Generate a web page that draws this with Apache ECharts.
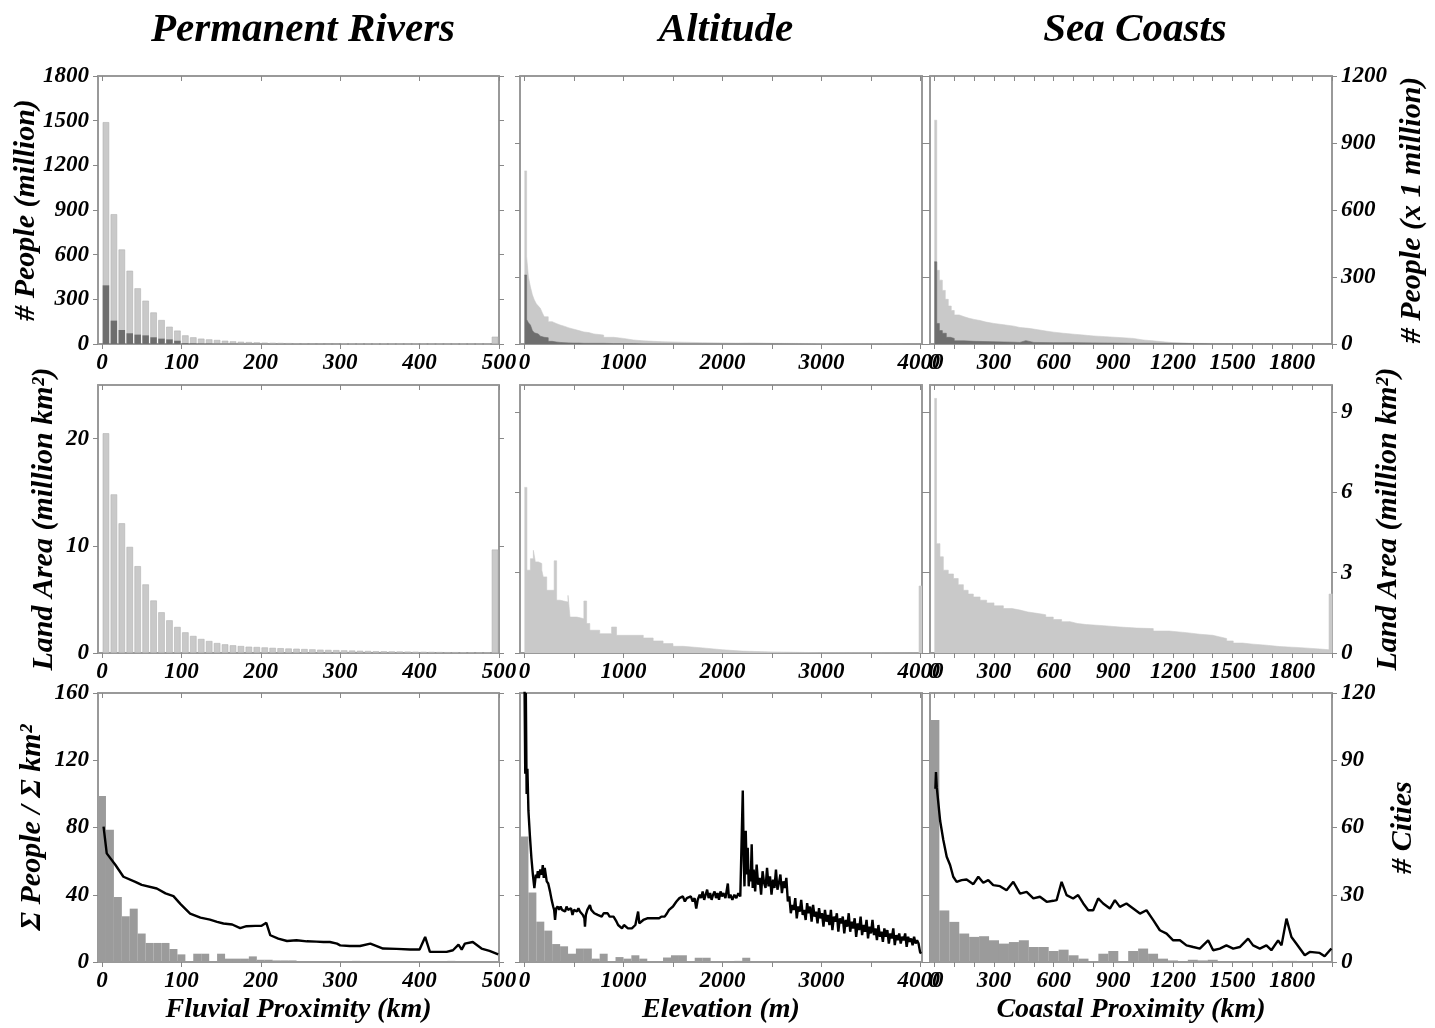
<!DOCTYPE html>
<html>
<head>
<meta charset="utf-8">
<title>Permanent Rivers / Altitude / Sea Coasts</title>
<script src="https://cdn.jsdelivr.net/npm/echarts@6/dist/echarts.min.js"></script>
<style>
html, body { margin: 0; padding: 0; background: #fff; }
#chart { width: 1435px; height: 1028px; }
</style>
</head>
<body>
<div id="chart"></div>
<script>
"use strict";

// ---- column titles / axis names
var colTitles = ['Permanent Rivers', 'Altitude', 'Sea Coasts'];
var xNames = ['Fluvial Proximity (km)', 'Elevation (m)', 'Coastal Proximity (km)'];
var leftNames = ['# People (million)', 'Land Area (million km\u00b2)', '\u03a3 People / \u03a3 km\u00b2'];
var rightNames = ['# People (x 1 million)', 'Land Area (million km\u00b2)', '# Cities'];

// ---- tick values
var riverTicks = [0, 100, 200, 300, 400, 500];
var altTicks = [0, 500, 1000, 1500, 2000, 2500, 3000, 3500, 4000];
var altLabels = [0, 1000, 2000, 3000, 4000];
var coastTicks = [0, 100, 200, 300, 400, 500, 600, 700, 800, 900, 1000, 1100, 1200, 1300, 1400, 1500, 1600, 1700, 1800, 1900, 2000];
var coastLabels = [0, 300, 600, 900, 1200, 1500, 1800];
var peopleLeftTicks = [0, 300, 600, 900, 1200, 1500, 1800];
var peopleRightTicks = [0, 300, 600, 900, 1200];
var landLeftTicks = [0, 10, 20];
var landRightTicks = [0, 3, 6, 9];
var ratioTicks = [0, 40, 80, 120, 160];
var cityTicks = [0, 30, 60, 90, 120];

// ---- Permanent Rivers (10 km bins)
var riverMid = [5, 15, 25, 35, 45, 55, 65, 75, 85, 95, 105, 115, 125, 135, 145, 155, 165, 175, 185, 195,
  205, 215, 225, 235, 245, 255, 265, 275, 285, 295, 305, 315, 325, 335, 345, 355, 365, 375, 385, 395,
  405, 415, 425, 435, 445, 455, 465, 475, 485, 495];
var riverPeople = [1490, 872, 635, 492, 374, 291, 212, 161, 116, 90, 58, 45, 36, 31, 27, 22, 18, 15, 13, 11,
  9, 8, 7, 6, 5, 5, 4, 4, 3, 3, 3, 2, 2, 2, 2, 2, 1, 1, 1, 1, 1, 1, 1, 1, 1, 1, 1, 1, 1, 49];
var riverCityPeople = [394, 157, 94, 72, 63, 58, 45, 36, 31, 22, 6, 5, 4, 4, 3, 3, 3, 2, 2, 2,
  2, 1, 1, 1, 1, 1, 1, 1, 1, 1, 0, 0, 0, 0, 0, 0, 0, 0, 0, 0, 0, 0, 0, 0, 0, 0, 0, 0, 0, 0];
var riverLand = [20.5, 14.8, 12.1, 9.9, 8.1, 6.4, 4.9, 3.8, 3.05, 2.43, 1.93, 1.59, 1.31, 1.12, 0.93, 0.81, 0.72, 0.65, 0.59, 0.56,
  0.52, 0.48, 0.45, 0.42, 0.4, 0.37, 0.34, 0.31, 0.29, 0.27, 0.25, 0.23, 0.21, 0.19, 0.17, 0.16, 0.15, 0.14, 0.13, 0.12,
  0.11, 0.1, 0.09, 0.08, 0.08, 0.07, 0.06, 0.05, 0.05, 9.65];
var riverCityMid = [0, 10, 20, 30, 40, 50, 60, 70, 80, 90, 100, 110, 120, 130, 140, 150, 160, 170, 180, 190,
  200, 210, 220, 230, 240, 250, 260, 270, 280, 290, 300, 310, 320, 330, 340, 350, 360, 370, 380, 390,
  400, 410, 420, 430, 440, 450, 460, 470, 480, 490];
var riverCities = [74, 59, 29, 20.4, 23.8, 12.7, 8.5, 8.5, 8.5, 5.8, 3.4, 0, 3.7, 3.7, 0, 3.7, 1.5, 1.5, 1.5, 2.5,
  1, 1, 0.7, 0.7, 0.7, 0, 0, 0, 0, 0, 0, 0, 0.5, 0, 0, 0, 0, 0, 0, 0, 0, 0, 0, 0, 0.5, 0, 0, 0, 0, 0];
var riverRatioKm = [2, 6, 17, 27, 42, 50, 69, 80, 90, 99, 111, 124, 136, 145, 153, 164, 174, 182, 193, 201,
  207, 212, 222, 233, 245, 258, 270, 279, 287, 296, 300, 312, 325, 338, 346, 354, 371, 388, 400, 407,
  413, 426, 434, 442, 449, 453, 457, 467, 478, 488, 499];
var riverRatio = [80.5, 64.6, 57.7, 50.7, 47.7, 45.9, 43.7, 40.8, 39.2, 34.4, 28.8, 26.4, 25.2, 23.9, 22.9, 22.3, 20.1, 21.3, 21.5, 21.5,
  23.3, 15.9, 13.9, 12.5, 12.9, 12.3, 12.1, 11.9, 11.9, 10.9, 9.9, 9.5, 9.5, 10.9, 9.5, 8, 7.8, 7.4, 7.4, 14.9,
  6, 6, 6, 7, 10.3, 7.4, 10.9, 11.9, 8, 6.6, 4.6];

// ---- Altitude (bin left edges in m)
var altPeopleElev = [0, 22, 40, 60, 80, 100, 120, 140, 160, 180, 200, 240, 280, 320, 360, 400, 450, 500, 550, 600,
  650, 700, 800, 900, 1000, 1100, 1200, 1400, 1600, 1800, 2000, 2150, 2300, 2500, 3000, 4000];
var altPeopleAll = [775, 391, 300, 256, 220, 197, 180, 170, 160, 140, 122, 100, 92, 85, 80, 72, 66, 60, 54, 51,
  45, 40, 30, 25, 18, 14, 10, 8, 6, 5, 4, 5, 3, 2, 1, 0];
var altPeopleCity = [309, 110, 95, 85, 60, 50, 45, 40, 35, 30, 28, 12, 9, 7, 6, 5, 4, 4, 3, 3,
  3, 3, 2, 2, 2, 1, 1, 1, 1, 1, 1, 1, 1, 0, 0, 0];
var altLandElev = [0, 25, 60, 90, 110, 140, 175, 190, 225, 300, 325, 360, 440, 460, 530, 600, 628, 660, 760, 880,
  930, 1200, 1300, 1400, 1500, 1600, 1800, 2000, 2200, 2500, 3000, 3985, 4015];
var altLand = [6.18, 3.09, 3.52, 3.83, 3.4, 3.34, 3.09, 2.84, 2.34, 3.44, 1.97, 1.9, 2.15, 1.34, 1.28, 1.94, 1.1, 0.85, 0.72, 0.97,
  0.66, 0.56, 0.45, 0.35, 0.25, 0.19, 0.12, 0.07, 0.04, 0.01, 0, 2.5, 2.5];
var altCityMid = [0, 80, 160, 240, 320, 400, 480, 560, 640, 720, 800, 880, 960, 1040, 1120, 1200, 1280, 1360, 1440, 1520,
  1600, 1680, 1760, 1840, 1920, 2000, 2080, 2160, 2240, 2320, 2400, 2480, 2560, 2640, 2720, 2800, 2880, 2960, 3040, 3120,
  3200, 3280, 3360, 3440, 3520, 3600, 3680, 3760, 3840, 3920];
var altCities = [56, 31, 18, 14, 8, 7, 3.7, 6, 6, 1.5, 3.7, 0.4, 2.2, 1.5, 3, 1.5, 0.4, 0.4, 2, 3,
  3, 0.4, 1.9, 1.9, 0, 0, 0, 0.5, 1.9, 0, 0, 0, 0.4, 0.4, 0.4, 0.4, 0, 0, 0, 0,
  0, 0, 0, 0, 0, 0, 0, 0, 0, 0];
var altRatioElev = [
  0, 8, 14, 22, 30, 40, 55, 70, 85, 100,
  108, 115, 125, 135, 145, 160, 175, 185, 195, 205,
  215, 225, 240, 258, 275, 290, 300, 309, 320, 335,
  350, 365, 380, 395, 410, 425, 440, 455, 470, 485,
  500, 515, 530, 545, 560, 575, 590, 605, 611, 620,
  635, 650, 661, 675, 690, 705, 720, 740, 760, 780,
  800, 820, 840, 860, 880, 900, 913, 930, 946, 965,
  985, 1005, 1025, 1045, 1065, 1085, 1105, 1120, 1135, 1148,
  1160, 1180, 1200, 1220, 1240, 1260, 1280, 1300, 1320, 1340,
  1360, 1383, 1400, 1416, 1440, 1460, 1480, 1500, 1517, 1535,
  1550, 1565, 1584, 1600, 1620, 1640, 1660, 1680, 1700, 1718,
  1735, 1750, 1770, 1785, 1800, 1815, 1830, 1845, 1860, 1875,
  1890, 1905, 1920, 1935, 1950, 1965, 1980, 1995, 2010, 2030,
  2054, 2065, 2080, 2100, 2120, 2140, 2160, 2180, 2195, 2205,
  2215, 2222, 2235, 2245, 2255, 2265, 2275, 2285, 2295, 2305,
  2315, 2330, 2345, 2360, 2375, 2390, 2405, 2420, 2435, 2450,
  2465, 2480, 2495, 2510, 2525, 2540, 2555, 2570, 2585, 2600,
  2615, 2630, 2645, 2660, 2675, 2690, 2705, 2720, 2735, 2750,
  2765, 2780, 2795, 2810, 2825, 2840, 2855, 2870, 2885, 2900,
  2915, 2930, 2945, 2960, 2975, 2990, 3005, 3020, 3035, 3050,
  3065, 3080, 3095, 3110, 3125, 3140, 3155, 3170, 3185, 3200,
  3215, 3230, 3245, 3260, 3275, 3290, 3305, 3320, 3335, 3350,
  3365, 3380, 3395, 3410, 3425, 3440, 3455, 3470, 3485, 3500,
  3515, 3530, 3545, 3560, 3575, 3590, 3605, 3620, 3635, 3650,
  3665, 3680, 3695, 3710, 3725, 3740, 3755, 3770, 3785, 3800,
  3815, 3830, 3845, 3860, 3875, 3890, 3905, 3920, 3935, 3950,
  3965, 3980, 3995, 4005];
var altRatio = [
  170, 112, 160, 100, 115, 90, 75, 62, 52, 44,
  44.7, 52, 50, 54, 50, 55, 52, 57.6, 50, 56,
  52, 48, 46.7, 42, 36.8, 33, 31, 25, 31.8, 33,
  31, 33, 31, 32, 30, 33, 31, 30, 32, 28,
  31, 32, 30, 32, 30, 31, 28, 26, 21, 28,
  31, 32, 33.8, 31, 30, 29, 30, 28, 29, 27,
  29, 28, 29, 27, 28, 27, 26, 24, 22, 21,
  20, 22, 21, 20, 21, 20, 21, 22, 21, 30,
  23, 24, 25, 24, 26, 25, 26, 25, 26, 25,
  26, 27, 27, 27, 29, 31, 32, 33, 33.8, 36,
  35, 38, 37, 39, 36, 38, 37, 39, 36, 38,
  31.8, 37, 40, 38, 42, 37, 40, 43, 38, 41,
  37, 40, 42, 38, 41, 37, 42, 39, 41, 38,
  46.7, 38, 40, 37, 40, 38, 41, 39, 40, 102,
  60, 45, 78, 52, 68, 45, 55, 48, 70, 44,
  55, 42, 58, 46, 50, 40, 54, 47, 44, 56,
  45, 51, 40, 49, 44, 55, 43, 47, 52, 41,
  48, 44, 50, 36, 39, 29, 34, 31, 38, 26,
  33, 30, 37, 28, 31, 25, 35, 29, 33, 24,
  34, 27, 30, 23, 32, 26, 29, 21, 31, 24,
  28, 22, 31, 19, 27, 24, 29, 18, 26, 23,
  27, 17, 25, 21, 29, 18, 24, 20, 26, 15,
  23, 19, 27, 16, 22, 18, 25, 14, 21, 17,
  25, 16, 20, 13, 22, 15, 18, 12, 20, 15,
  19, 11, 17, 14, 20, 10, 16, 13, 17, 11,
  15, 13, 17, 9, 15, 12, 14, 10, 15, 11,
  13, 11, 6, 5];

// ---- Sea Coasts (bin left edges in km)
var coastPeopleKm = [0, 12, 25, 40, 55, 70, 85, 100, 125, 150, 175, 200, 230, 260, 300, 350, 400, 430, 475, 520,
  560, 600, 650, 700, 750, 800, 860, 930, 1000, 1050, 1100, 1150, 1200, 1300, 1500, 2000];
var coastPeopleAll = [1002, 330, 286, 240, 200, 170, 150, 130, 122, 115, 110, 105, 98, 92, 86, 80, 74, 70, 64, 58,
  53, 48, 44, 40, 36, 33, 29, 25, 18, 14, 10, 6, 3, 2, 1, 0];
var coastCityKm = [0, 12, 25, 40, 60, 80, 100, 150, 200, 300, 400, 430, 460, 500, 600, 700, 800, 900, 1000, 1200,
  1400, 2000];
var coastCityPeople = [368, 92, 60, 48, 30, 25, 14, 12, 10, 8, 7, 15, 7, 6, 6, 5, 4, 3, 3, 1,
  1, 0];
var coastLandKm = [0, 11, 28, 45, 70, 96, 120, 146, 170, 196, 230, 263, 300, 347, 390, 431, 470, 515, 560, 598,
  640, 682, 720, 766, 850, 933, 1017, 1101, 1180, 1268, 1335, 1400, 1436, 1470, 1503, 1550, 1603, 1670, 1737, 1840,
  1938, 1985, 2002];
var coastLand = [9.5, 4.08, 3.59, 3.09, 2.95, 2.78, 2.55, 2.34, 2.2, 2.09, 1.97, 1.87, 1.76, 1.66, 1.6, 1.53, 1.48, 1.43, 1.34, 1.25,
  1.17, 1.1, 1.06, 1.02, 0.97, 0.93, 0.91, 0.82, 0.76, 0.7, 0.66, 0.6, 0.54, 0.45, 0.37, 0.33, 0.29, 0.24, 0.2, 0.15,
  0.12, 2.2, 2.2];
var coastCityMid = [0, 50, 100, 150, 200, 250, 300, 350, 400, 450, 500, 550, 600, 650, 700, 750, 800, 850, 900, 950,
  1000, 1050, 1100, 1150, 1200, 1250, 1300, 1350, 1400, 1450, 1500, 1550, 1600, 1650, 1700, 1750, 1800, 1850, 1900, 1950];
var coastCities = [108, 23, 17.9, 12.7, 11.2, 11.5, 9.7, 8.2, 8.9, 9.7, 6.7, 6.7, 4.9, 5.5, 3, 1.5, 0.3, 3.7, 4.9, 0,
  4.9, 6, 3.7, 1.5, 0.7, 0.3, 1, 0.7, 1, 0, 0, 0, 0, 0, 0, 0.5, 0.5, 0, 0, 0];
var coastRatioKm = [5, 8, 12, 29, 45, 62, 79, 95, 112, 137, 162, 196, 221, 246, 271, 296, 330, 363, 397, 431,
  464, 498, 531, 565, 598, 615, 640, 665, 698, 723, 749, 774, 799, 824, 849, 883, 908, 933, 966, 1000,
  1034, 1067, 1101, 1134, 1168, 1201, 1235, 1268, 1302, 1335, 1377, 1402, 1436, 1469, 1503, 1536, 1578, 1603, 1637, 1670,
  1695, 1729, 1746, 1771, 1796, 1821, 1863, 1888, 1938, 1963, 1997];
var coastRatio = [103, 113, 104, 84, 72.6, 62.6, 57.7, 50.7, 47.7, 48.7, 49.1, 46.3, 50.7, 47.1, 48.7, 45.7, 45.1, 42.7, 47.7, 40.7,
  41.7, 37.8, 38.8, 35.8, 36.4, 36.8, 47.7, 39.8, 37.8, 39.8, 34.8, 30.8, 30.8, 37.8, 34.8, 31.8, 36.8, 32.8, 34.8, 31.8,
  28.8, 30.8, 24.9, 18.9, 16.9, 12.9, 12.9, 9.9, 8.9, 8, 12.9, 7, 8, 9.9, 8, 8.9, 13.9, 9.9, 8, 9.9,
  7, 12.9, 9.9, 25.8, 14.9, 10.9, 4, 6, 5.4, 3.4, 8];

// ---- helpers
var FONT = 'Liberation Serif';
var LIGHT = '#c9c9c9', DARK = '#6e6e6e', CITY = '#9b9b9b', FRAME = '#999999';

function zip(xs, ys) {
  var out = [];
  for (var i = 0; i < xs.length; i++) out.push([xs[i], ys[i]]);
  return out;
}
function txt(size) {
  return { color: '#000', fontFamily: FONT, fontWeight: 'bold', fontStyle: 'italic', fontSize: size };
}
function plain(v) { return String(v); }   // no thousands separator

// panel layout
var cols = [
  { left: 98, width: 401, min: -5, max: 500, ticks: riverTicks, labels: riverTicks, center: 298 },
  { left: 520, width: 402, min: -45, max: 4015, ticks: altTicks, labels: altLabels, center: 721 },
  { left: 930, width: 402, min: -22, max: 2000, ticks: coastTicks, labels: coastLabels, center: 1130 }
];
var rows = [
  { top: 76, height: 268, leftGap: 57, rightGap: 65 },
  { top: 385, height: 268, leftGap: 39, rightGap: 41 },
  { top: 693, height: 269, leftGap: 51, rightGap: 56 }
];
// y scales [left, right]: first column, and the two others
var yScales = [
  [[0, 1800, peopleLeftTicks], [0, 1800, peopleLeftTicks]],
  [[0, 25, landLeftTicks], [0, 25, landLeftTicks]],
  [[0, 160, ratioTicks], [0, 120, cityTicks]]
];
var yScalesOther = [
  [[0, 1200, peopleRightTicks], [0, 1200, peopleRightTicks]],
  [[0, 10, landRightTicks], [0, 10, landRightTicks]],
  [[0, 160, ratioTicks], [0, 120, cityTicks]]
];

var grids = [], xAxes = [], yAxes = [], series = [];

for (var r = 0; r < 3; r++) {
  for (var c = 0; c < 3; c++) {
    var p = r * 3 + c, col = cols[c], row = rows[r];
    grids.push({ left: col.left, top: row.top, width: col.width, height: row.height,
      containLabel: false, outerBoundsMode: 'none' });

    ['bottom', 'top'].forEach(function (pos) {
      var bottom = pos === 'bottom';
      xAxes.push({
        gridIndex: p, type: 'value', position: pos, min: col.min, max: col.max,
        axisLine: { show: true, onZero: false, lineStyle: { color: FRAME, width: 2 } },
        axisTick: { show: true, inside: !bottom, length: 5, customValues: col.ticks, lineStyle: { color: '#888' } },
        axisLabel: bottom ? Object.assign({ show: true, margin: 8, customValues: col.labels, formatter: plain }, txt(23)) : { show: false },
        splitLine: { show: false },
        name: (bottom && r === 2) ? xNames[c] : '',
        nameLocation: 'middle', nameGap: 34, nameMoveOverlap: false,
        nameTextStyle: txt(28)
      });
    });

    var sc = c === 0 ? yScales[r] : yScalesOther[r];
    [0, 1].forEach(function (side) {
      var isLeft = side === 0;
      var labelled = (isLeft && c === 0) || (!isLeft && c === 2);
      var s = sc[side];
      yAxes.push({
        gridIndex: p, type: 'value', position: isLeft ? 'left' : 'right', min: s[0], max: s[1],
        axisLine: { show: true, onZero: false, lineStyle: { color: FRAME, width: 2 } },
        axisTick: { show: true, inside: false, length: 5, customValues: s[2], lineStyle: { color: '#888' } },
        axisLabel: labelled ? Object.assign({ show: true, margin: 9, customValues: s[2], formatter: plain }, txt(23)) : { show: false },
        splitLine: { show: false },
        name: labelled ? (isLeft ? leftNames[r] : rightNames[r]) : '',
        nameLocation: 'middle', nameRotate: 90, nameMoveOverlap: false,
        nameGap: isLeft ? row.leftGap : row.rightGap,
        nameTextStyle: txt(30)
      });
    });
  }
}

function bar(p, yIdx, data, color, width, extra) {
  return Object.assign({
    type: 'bar', xAxisIndex: 2 * p, yAxisIndex: yIdx, data: data, barWidth: width,
    itemStyle: { color: color }, silent: true, clip: true
  }, extra || {});
}
function area(p, yIdx, data, color, z) {
  return {
    type: 'line', xAxisIndex: 2 * p, yAxisIndex: yIdx, data: data, step: 'end', symbol: 'none',
    lineStyle: { width: 0.6, color: color }, areaStyle: { color: color, opacity: 1 }, z: z, silent: true, clip: true
  };
}
function curve(p, yIdx, data) {
  return {
    type: 'line', xAxisIndex: 2 * p, yAxisIndex: yIdx, data: data, symbol: 'none',
    lineStyle: { color: '#000', width: 2.4 }, z: 6, silent: true, clip: true
  };
}

// row 1: people
series.push(bar(0, 0, zip(riverMid, riverPeople), LIGHT, 6.5, { itemStyle: { color: LIGHT, borderColor: '#b2b2b2', borderWidth: 0.6 } }));
series.push(bar(0, 0, zip(riverMid, riverCityPeople), DARK, 6.5, { barGap: '-100%', z: 3 }));
series.push(area(1, 3, zip(altPeopleElev, altPeopleAll), LIGHT, 2));
series.push(area(1, 3, zip(altPeopleElev, altPeopleCity), DARK, 3));
series.push(area(2, 5, zip(coastPeopleKm, coastPeopleAll), LIGHT, 2));
series.push(area(2, 5, zip(coastCityKm, coastCityPeople), DARK, 3));
// row 2: land area
series.push(bar(3, 6, zip(riverMid, riverLand), LIGHT, 6.5, { itemStyle: { color: LIGHT, borderColor: '#b2b2b2', borderWidth: 0.6 } }));
series.push(area(4, 9, zip(altLandElev, altLand), LIGHT, 2));
series.push(area(5, 11, zip(coastLandKm, coastLand), LIGHT, 2));
// row 3: cities + people per km2
series.push(bar(6, 13, zip(riverCityMid, riverCities), CITY, 8));
series.push(curve(6, 12, zip(riverRatioKm, riverRatio)));
series.push(bar(7, 15, zip(altCityMid, altCities), CITY, 8));
series.push(curve(7, 14, zip(altRatioElev, altRatio)));
series.push(bar(8, 17, zip(coastCityMid, coastCities), CITY, 10));
series.push(curve(8, 16, zip(coastRatioKm, coastRatio)));

var chart = echarts.init(document.getElementById('chart'));
chart.setOption({
  backgroundColor: '#fff',
  animation: false,
  title: colTitles.map(function (t, i) {
    return { text: t, left: cols[i].center, top: 5, textAlign: 'center', textStyle: txt(41) };
  }),
  grid: grids,
  xAxis: xAxes,
  yAxis: yAxes,
  series: series
});
</script>
</body>
</html>
